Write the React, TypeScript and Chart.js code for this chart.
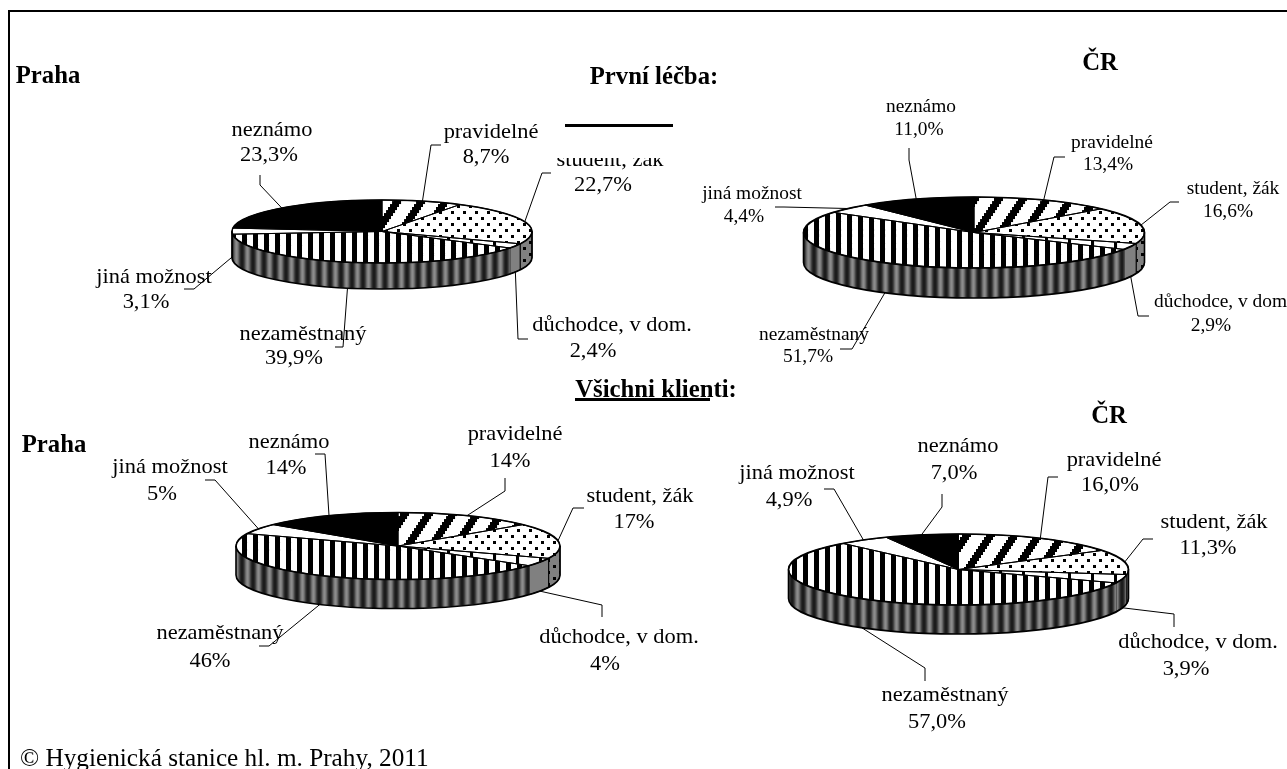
import React, { useEffect, useRef } from "react";
import { Chart, registerables } from "chart.js";

Chart.register(...registerables);

const W = 1287;
const H = 769;
const SERIF = '"Liberation Serif", "Times New Roman", serif';

const categories = ["pravidelné", "student, žák", "důchodce, v dom.", "nezaměstnaný", "jiná možnost", "neznámo"];
const prahaFirst = [8.7, 22.7, 2.4, 39.9, 3.1, 23.3];
const crFirst = [13.4, 16.6, 2.9, 51.7, 4.4, 11.0];
const prahaAll = [14, 17, 4, 46, 5, 14];
const crAll = [16.0, 11.3, 3.9, 57.0, 4.9, 7.0];

// label layout per category: name x,y / value x,y / first leader point / elbow
const layoutPrahaFirst = [
  [491, 132, 486, 157, 441, 145, 431, 145],
  [610, 160, 603, 185, 551, 173, 542, 173],
  [612, 325, 593, 351, 528, 339, 518, 339],
  [303, 334, 294, 358, 335, 347, 343, 347],
  [154, 277, 146, 302, 184, 289, 194, 289],
  [272, 130, 269, 155, 260, 175, 260, 185],
];
const layoutCrFirst = [
  [1112, 143, 1108, 165, 1065, 157, 1054, 157],
  [1233, 189, 1228, 212, 1179, 202, 1170, 202],
  [1223, 302, 1211, 326, 1149, 316, 1138, 316],
  [814, 335, 808, 357, 840, 349, 852, 349],
  [752, 194, 744, 217, 775, 207, 784, 207],
  [921, 107, 919, 130, 909, 148, 909, 160],
];
const layoutPrahaAll = [
  [515, 434, 510, 461, 505, 478, 505, 491],
  [640, 496, 634, 522, 584, 508, 573, 508],
  [619, 637, 605, 664, 602, 617, 602, 605],
  [220, 633, 210, 661, 259, 646, 269, 646],
  [170, 467, 162, 494, 205, 480, 215, 480],
  [289, 442, 286, 468, 315, 454, 325, 454],
];
const layoutCrAll = [
  [1114, 460, 1110, 485, 1058, 477, 1048, 477],
  [1214, 522, 1208, 548, 1153, 539, 1143, 539],
  [1198, 642, 1186, 669, 1174, 627, 1174, 614],
  [945, 695, 937, 722, 925, 681, 925, 668],
  [797, 473, 789, 500, 824, 489, 834, 489],
  [958, 446, 954, 473, 942, 494, 942, 507],
];

const pies = [
  { values: prahaFirst, layout: layoutPrahaFirst, decimals: 1, cx: 382, cy: 231.5, rx: 150, ry: 31.5, depth: 26, font: 22, stretch: 1.02, grayRetiree: true },
  { values: crFirst, layout: layoutCrFirst, decimals: 1, cx: 974, cy: 232.5, rx: 170.5, ry: 35.5, depth: 30, font: 19.4, stretch: 1, grayRetiree: true },
  { values: prahaAll, layout: layoutPrahaAll, decimals: 0, cx: 398, cy: 546, rx: 162, ry: 33.5, depth: 29, font: 22, stretch: 1.02, grayRetiree: true },
  { values: crAll, layout: layoutCrAll, decimals: 1, cx: 958.5, cy: 569.5, rx: 170, ry: 35.5, depth: 29, font: 22, stretch: 1.02, grayRetiree: false },
];

const titles = [
  { text: "Praha", x: 48, y: 75 },
  { text: "První léčba:", x: 654, y: 76 },
  { text: "ČR", x: 1100, y: 62 },
  { text: "Všichni klienti:", x: 656, y: 389 },
  { text: "Praha", x: 54, y: 444 },
  { text: "ČR", x: 1109, y: 415 },
];

function tile(w: number, h: number, paint: (c: CanvasRenderingContext2D) => void): HTMLCanvasElement {
  const cv = document.createElement("canvas");
  cv.width = w;
  cv.height = h;
  paint(cv.getContext("2d") as CanvasRenderingContext2D);
  return cv;
}

const diagTile = () =>
  tile(24, 36, (c) => {
    c.fillStyle = "#fff";
    c.fillRect(0, 0, 24, 36);
    c.fillStyle = "#000";
    for (let j = 0; j < 12; j++) {
      const x = j * 2;
      const yy = j * 3;
      c.fillRect(x, yy, 9, 3);
      if (x + 9 > 24) c.fillRect(x - 24, yy, 9, 3);
    }
    // mirror to rise toward the right
    const copy = document.createElement("canvas");
    copy.width = 24;
    copy.height = 36;
    (copy.getContext("2d") as CanvasRenderingContext2D).drawImage(c.canvas, 0, 0);
    c.save();
    c.translate(0, 36);
    c.scale(1, -1);
    c.drawImage(copy, 0, 0);
    c.restore();
  });
const dotTile = (bg: string) =>
  tile(12, 12, (c) => {
    c.fillStyle = bg;
    c.fillRect(0, 0, 12, 12);
    c.fillStyle = "#000";
    c.fillRect(1, 1, 3, 3);
    c.fillRect(7, 7, 3, 3);
  });
const thinTile = () =>
  tile(23, 4, (c) => {
    c.fillStyle = "#fff";
    c.fillRect(0, 0, 23, 4);
    c.fillStyle = "#000";
    c.fillRect(10, 0, 3, 4);
  });
const vertTile = () =>
  tile(11, 4, (c) => {
    c.fillStyle = "#fff";
    c.fillRect(0, 0, 11, 4);
    c.fillStyle = "#000";
    c.fillRect(0, 0, 5, 4);
  });
const sideStripeTile = () =>
  tile(11, 4, (c) => {
    const shades = ["#1c1c1c", "#2a2a2a", "#444", "#666", "#808080", "#8c8c8c", "#808080", "#666", "#444", "#2a2a2a", "#1c1c1c"];
    shades.forEach((s, i) => {
      c.fillStyle = s;
      c.fillRect(i, 0, 1, 4);
    });
  });

function makePiePlugin(p: (typeof pies)[number], sideFills: (string | CanvasPattern)[]) {
  return {
    id: "pie3d",
    beforeDatasetsDraw(chart: any) {
      const ctx = chart.ctx as CanvasRenderingContext2D;
      const arcs = chart.getDatasetMeta(0).data;
      const { x, y, outerRadius } = arcs[0];
      const ry = outerRadius * (p.ry / p.rx);
      arcs.forEach((a: any, i: number) => {
        const s = Math.max(a.startAngle, 0);
        const e = Math.min(a.endAngle, Math.PI);
        if (e <= s) return;
        ctx.beginPath();
        ctx.ellipse(x, y + p.depth, outerRadius, ry, 0, s, e);
        ctx.ellipse(x, y, outerRadius, ry, 0, e, s, true);
        ctx.closePath();
        ctx.fillStyle = sideFills[i];
        ctx.fill();
        ctx.strokeStyle = "#000";
        ctx.lineWidth = 1;
        if (i !== 3) ctx.stroke();
      });
      ctx.save();
      ctx.translate(0, y);
      ctx.scale(1, p.ry / p.rx);
      ctx.translate(0, -y);
    },
    afterDatasetsDraw(chart: any) {
      const ctx = chart.ctx as CanvasRenderingContext2D;
      ctx.restore();
      const arcs = chart.getDatasetMeta(0).data;
      const { x, y, outerRadius } = arcs[0];
      const ry = outerRadius * (p.ry / p.rx);
      ctx.strokeStyle = "#000";
      ctx.lineJoin = "round";
      arcs.forEach((a: any) => {
        ctx.beginPath();
        ctx.moveTo(x, y);
        ctx.ellipse(x, y, outerRadius, ry, 0, a.startAngle, a.endAngle);
        ctx.closePath();
        ctx.lineWidth = 1;
        ctx.stroke();
      });
      // outer silhouette
      ctx.lineWidth = 1.6;
      ctx.beginPath();
      ctx.ellipse(x, y, outerRadius, ry, 0, 0, Math.PI * 2);
      ctx.stroke();
      ctx.beginPath();
      ctx.moveTo(x + outerRadius, y);
      ctx.lineTo(x + outerRadius, y + p.depth);
      ctx.ellipse(x, y + p.depth, outerRadius, ry, 0, 0, Math.PI);
      ctx.lineTo(x - outerRadius, y);
      ctx.stroke();
      // leaders and labels
      arcs.forEach((a: any, i: number) => {
        const l = p.layout[i];
        const mid = (a.startAngle + a.endAngle) / 2;
        const ax = x + outerRadius * Math.cos(mid);
        const lower = Math.sin(mid) > 0 || Math.abs(Math.cos(mid)) > 0.995;
        const ay = y + ry * Math.sin(mid) + (lower ? p.depth : 0);
        ctx.beginPath();
        ctx.moveTo(l[4], l[5]);
        ctx.lineTo(l[6], l[7]);
        ctx.lineTo(ax, ay);
        ctx.lineWidth = 1;
        ctx.stroke();
        const val = p.values[i].toFixed(p.decimals).replace(".", ",") + "%";
        ctx.fillStyle = "#000";
        ctx.textAlign = "center";
        ctx.textBaseline = "middle";
        ctx.font = `${p.font}px ${SERIF}`;
        ([[categories[i], l[0], l[1]], [val, l[2], l[3]]] as [string, number, number][]).forEach(([t, tx, ty]) => {
          ctx.save();
          ctx.translate(tx, ty);
          ctx.scale(p.stretch, 1);
          ctx.fillText(t, 0, 0);
          ctx.restore();
        });
      });
    },
  };
}

function PieChart({ pie }: { pie: (typeof pies)[number] }) {
  const ref = useRef<HTMLCanvasElement>(null);
  useEffect(() => {
    const canvas = ref.current as HTMLCanvasElement;
    const ctx = canvas.getContext("2d") as CanvasRenderingContext2D;
    const k = pie.ry / pie.rx;
    const screen = new DOMMatrix().translate(0, pie.cy).scale(1, 1 / k).translate(0, -pie.cy);
    const top = (t: HTMLCanvasElement) => {
      const pat = ctx.createPattern(t, "repeat") as CanvasPattern;
      pat.setTransform(screen);
      return pat;
    };
    const flat = (t: HTMLCanvasElement) => ctx.createPattern(t, "repeat") as CanvasPattern;
    const fills = [top(diagTile()), top(dotTile("#fff")), top(thinTile()), top(vertTile()), "#ffffff", "#000000"];
    const sideFills = [
      flat(sideStripeTile()),
      flat(dotTile("#808080")),
      pie.grayRetiree ? "#808080" : flat(sideStripeTile()),
      flat(sideStripeTile()),
      "#808080",
      "#333333",
    ];
    const chart = new Chart(canvas, {
      type: "pie",
      data: {
        labels: categories,
        datasets: [{ data: pie.values, backgroundColor: fills, borderWidth: 0, clip: false } as any],
      },
      options: {
        animation: false,
        responsive: false,
        devicePixelRatio: 1,
        events: [],
        layout: {
          padding: {
            left: pie.cx - pie.rx,
            right: W - pie.cx - pie.rx,
            top: pie.cy - pie.rx,
            bottom: H - pie.cy - pie.rx,
          },
        },
        plugins: { legend: { display: false }, tooltip: { enabled: false }, title: { display: false } },
      },
      plugins: [makePiePlugin(pie, sideFills)],
    } as any);
    return () => chart.destroy();
  }, [pie]);
  return <canvas ref={ref} width={W} height={H} style={{ position: "absolute", left: 0, top: 0, width: W, height: H }} />;
}

function Text({ x, y, size, bold, children, left }: any) {
  return (
    <div
      style={{
        position: "absolute",
        left: x,
        top: y,
        transform: left ? "translateY(-50%) scaleX(1.01)" : "translate(-50%,-50%) scaleX(1.01)",
        transformOrigin: left ? "left center" : "center",
        fontFamily: SERIF,
        fontSize: size,
        fontWeight: bold ? 700 : 400,
        whiteSpace: "nowrap",
        lineHeight: 1,
        color: "#000",
      }}
    >
      {children}
    </div>
  );
}

const rect = (left: number, top: number, width: number, height: number, background: string): React.CSSProperties => ({
  position: "absolute",
  left,
  top,
  width,
  height,
  background,
});

export default function App() {
  return (
    <div style={{ position: "absolute", left: 0, top: 0, width: W, height: H, overflow: "hidden", background: "#fff" }}>
      {pies.map((p, i) => (
        <PieChart key={i} pie={p} />
      ))}
      <div style={rect(550, 128, 130, 30, "#fff")} />
      <div style={rect(8, 10, W - 8, 2, "#000")} />
      <div style={rect(8, 10, 2, H - 10, "#000")} />
      <div style={rect(565, 124, 108, 3, "#000")} />
      <div style={rect(575, 398, 135, 3, "#000")} />
      {titles.map((t, i) => (
        <Text key={i} x={t.x} y={t.y} size={24.5} bold>
          {t.text}
        </Text>
      ))}
      <Text x={20} y={757} size={25} left>
        © Hygienická stanice hl. m. Prahy, 2011
      </Text>
    </div>
  );
}
